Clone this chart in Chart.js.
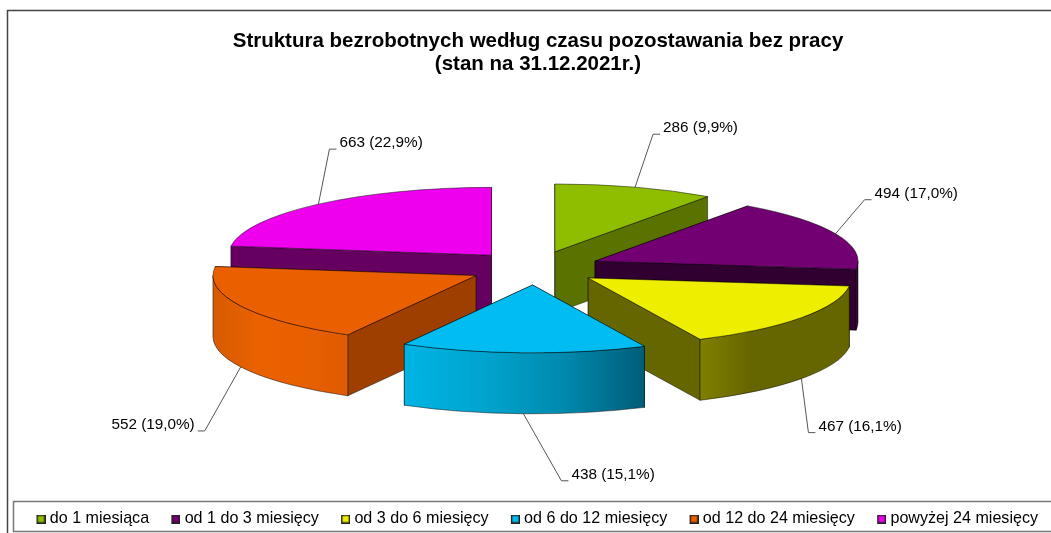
<!DOCTYPE html>
<html>
<head>
<meta charset="utf-8">
<script src="https://cdn.jsdelivr.net/npm/chart.js@4"></script>
<style>
  html, body { margin: 0; padding: 0; background: #fff; }
  canvas { display: block; }
</style>
</head>
<body>
<canvas id="chart" width="1051" height="533"></canvas>
<script>
const categories = ["do 1 miesiąca", "od 1 do 3 miesięcy", "od 3 do 6 miesięcy", "od 6 do 12 miesięcy", "od 12 do 24 miesięcy", "powyżej 24 miesięcy"]
const counts = [286, 494, 467, 438, 552, 663]
const titleLines = ["Struktura bezrobotnych według czasu pozostawania bez pracy", "(stan na 31.12.2021r.)"]

const topColors = ["#8fbe00", "#730073", "#eeee00", "#00bcf0", "#ea6000", "#ee00ee"]
const sideColors = ["#5a7300", "#300030", "#666600", "#005d78", "#9e3f00", "#660060"]
const wallColors = [
  ["#5a7300", "#5a7300"],
  ["#300030", "#300030"],
  ["#807f00", "#666600", "#666600", "#666600"],
  ["#00b4e4", "#00a4cf", "#0089ad", "#005d78"],
  ["#d65b00", "#ea6100", "#e86000", "#e05b00"],
  ["#660060", "#660060"]
]
// leader line elbow, relative to where the line leaves the slice
const leaderOffsets = [[18, -53], [29, -34], [7, 54], [38, 67], [-36, 64], [11, -55]]

const centerX = 534.8
const centerY = 268
const squash = 0.258
const depth = 61

function percentText(value) {
  const total = counts.reduce((a, b) => a + b, 0)
  return (value / total * 100).toFixed(1).replace(".", ",") + "%"
}

// the blank left part pushes the square close to its text
function legendSquare(color) {
  const c = document.createElement("canvas")
  c.width = 25
  c.height = 9
  const g = c.getContext("2d")
  g.fillStyle = color
  g.fillRect(16, 0, 9, 9)
  g.strokeStyle = "#222"
  g.lineWidth = 1.4
  g.strokeRect(16.7, 0.7, 7.6, 7.6)
  return c
}

function drawSlice(ctx, arc, i) {
  const r = arc.outerRadius
  const ry = r * squash
  const mid = (arc.startAngle + arc.endAngle) / 2
  const x = arc.x + Math.cos(mid) * arc.options.offset
  const y = arc.y + Math.sin(mid) * arc.options.offset * squash
  const pt = a => [x + Math.cos(a) * r, y + Math.sin(a) * ry]

  ctx.lineWidth = 0.8
  ctx.strokeStyle = "rgba(0,0,0,0.6)"
  ctx.lineJoin = "round"

  // radial walls, the one further back first
  const radials = [arc.startAngle, arc.endAngle].sort((a, b) => pt(a)[1] - pt(b)[1])
  radials.forEach(a => {
    const [px, py] = pt(a)
    ctx.beginPath()
    ctx.moveTo(x, y)
    ctx.lineTo(px, py)
    ctx.lineTo(px, py + depth)
    ctx.lineTo(x, y + depth)
    ctx.closePath()
    ctx.fillStyle = sideColors[i]
    ctx.fill()
    ctx.stroke()
  })

  // outer wall, only the part facing the viewer
  const from = Math.max(arc.startAngle, 0)
  const to = Math.min(arc.endAngle, Math.PI)
  if (to > from) {
    const grad = ctx.createLinearGradient(pt(to)[0], 0, pt(from)[0], 0)
    wallColors[i].forEach((c, k, all) => grad.addColorStop(k / (all.length - 1), c))
    ctx.beginPath()
    ctx.ellipse(x, y, r, ry, 0, from, to)
    ctx.ellipse(x, y + depth, r, ry, 0, to, from, true)
    ctx.closePath()
    ctx.fillStyle = grad
    ctx.fill()
    ctx.stroke()
  }

  // top face
  ctx.beginPath()
  ctx.moveTo(x, y)
  ctx.ellipse(x, y, r, ry, 0, arc.startAngle, arc.endAngle)
  ctx.closePath()
  ctx.fillStyle = topColors[i]
  ctx.fill()
  ctx.stroke()
}

function drawLeader(ctx, arc, i) {
  const r = arc.outerRadius
  const mid = (arc.startAngle + arc.endAngle) / 2
  const x = arc.x + Math.cos(mid) * arc.options.offset
  const y = arc.y + Math.sin(mid) * arc.options.offset * squash
  const ax = x + Math.cos(mid) * r
  const ay = y + Math.sin(mid) * r * squash + (Math.sin(mid) > 0 ? depth : 0)
  const ex = ax + leaderOffsets[i][0]
  const ey = ay + leaderOffsets[i][1]
  const side = leaderOffsets[i][0] < 0 ? -1 : 1

  ctx.strokeStyle = "#555"
  ctx.lineWidth = 1
  ctx.beginPath()
  ctx.moveTo(ax, ay)
  ctx.lineTo(ex, ey)
  ctx.lineTo(ex + side * 7, ey)
  ctx.stroke()

  ctx.fillStyle = "#000"
  ctx.font = "15.3px 'Liberation Sans', Arial, sans-serif"
  ctx.textBaseline = "middle"
  ctx.textAlign = side < 0 ? "right" : "left"
  ctx.fillText(counts[i] + " (" + percentText(counts[i]) + ")", ex + side * 10, ey - 6)
}

const pie3d = {
  id: "pie3d",
  afterLayout(chart) {
    // the title, legend and pie do not follow the stacked layout in the original
    Object.assign(chart.chartArea, { left: centerX - 300, right: centerX + 300, top: centerY - 200, bottom: centerY + 200 })
    chart.titleBlock.left = 0
    chart.titleBlock.right = 1076
    chart.legend.left = 14.25
    chart.legend.right = 1051
    chart.legend.top = 501
    chart.legend.bottom = 533
  },
  beforeDraw(chart) {
    const ctx = chart.ctx
    ctx.save()
    ctx.strokeStyle = "#444"
    ctx.lineWidth = 1.5
    ctx.beginPath()
    ctx.moveTo(7.5, 533)
    ctx.lineTo(7.5, 10.5)
    ctx.lineTo(1051, 10.5)
    ctx.stroke()
    ctx.strokeStyle = "#777"
    ctx.beginPath()
    ctx.moveTo(1051, 501.5)
    ctx.lineTo(13.5, 501.5)
    ctx.lineTo(13.5, 531.5)
    ctx.lineTo(1051, 531.5)
    ctx.stroke()
    ctx.restore()
  },
  beforeDatasetDraw(chart, args) {
    const ctx = chart.ctx
    const arcs = args.meta.data
    const apexY = i => arcs[i].y + Math.sin((arcs[i].startAngle + arcs[i].endAngle) / 2) * arcs[i].options.offset * squash
    ctx.save()
    arcs.forEach((arc, i) => { if (Math.sin((arc.startAngle + arc.endAngle) / 2) <= 0) drawLeader(ctx, arc, i) })
    arcs.map((_, i) => i).sort((a, b) => apexY(a) - apexY(b)).forEach(i => drawSlice(ctx, arcs[i], i))
    arcs.forEach((arc, i) => { if (Math.sin((arc.startAngle + arc.endAngle) / 2) > 0) drawLeader(ctx, arc, i) })
    ctx.restore()
    return false
  }
}

new Chart(document.getElementById("chart"), {
  type: "pie",
  plugins: [pie3d],
  data: {
    labels: categories,
    datasets: [{
      data: counts,
      backgroundColor: topColors,
      radius: 263,
      offset: 65.8,
      borderWidth: 0
    }]
  },
  options: {
    responsive: false,
    animation: false,
    plugins: {
      title: {
        display: true,
        text: titleLines,
        color: "#000",
        font: { family: "'Liberation Sans', Arial, sans-serif", size: 20.5, weight: "bold", lineHeight: 1.13 },
        padding: { top: 30, bottom: 0 }
      },
      legend: {
        display: true,
        position: "bottom",
        align: "start",
        labels: {
          color: "#000",
          font: { family: "'Liberation Sans', Arial, sans-serif", size: 16.1 },
          padding: 10,
          usePointStyle: true,
          pointStyleWidth: 17.5,
          boxHeight: 9,
          generateLabels: chart => categories.map((text, i) => ({
            text,
            index: i,
            pointStyle: legendSquare(topColors[i]),
            fillStyle: topColors[i],
            strokeStyle: "#222",
            lineWidth: 1
          }))
        }
      }
    }
  }
})
</script>
</body>
</html>
